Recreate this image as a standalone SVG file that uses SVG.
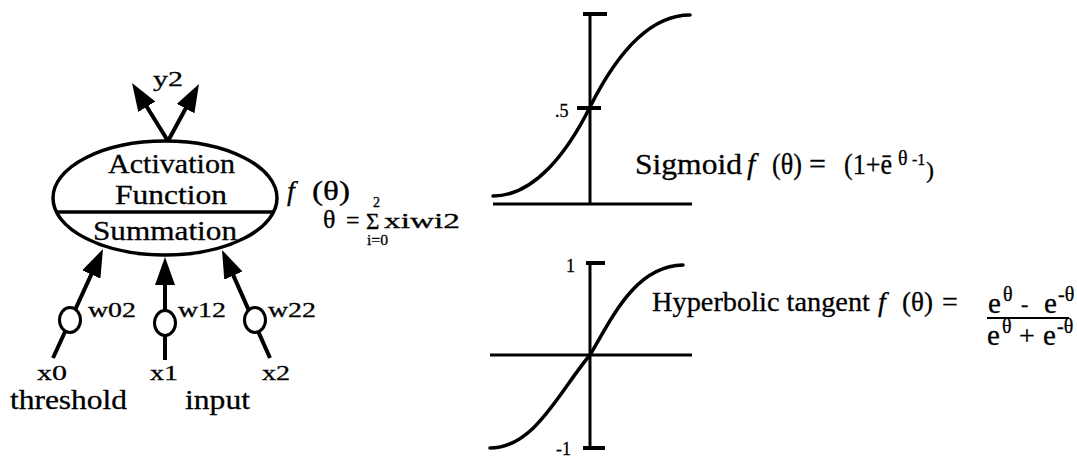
<svg xmlns="http://www.w3.org/2000/svg" width="1077" height="459" viewBox="0 0 1077 459">
<defs>
<style>
.t{font-family:"Liberation Serif","Times New Roman",serif;fill:#000;stroke:#000;stroke-width:0.3}
.i{font-style:italic}
.ax{fill:none;stroke:#000;stroke-width:3}
.tk{fill:none;stroke:#000;stroke-width:4}
.cv{fill:none;stroke:#000;stroke-width:3.5;stroke-linecap:round}
.ln{fill:none;stroke:#000;stroke-width:4;marker-end:url(#ah)}
.nd{fill:#fff;stroke:#000;stroke-width:3.5}
.wc{fill:#fff;stroke:#000;stroke-width:3}
</style>
<marker id="ah" viewBox="0 0 28 20" refX="18" refY="10" markerWidth="28" markerHeight="20" markerUnits="userSpaceOnUse" orient="auto"><path d="M0,0 L28,10 L0,20 z" fill="#000"/></marker>
</defs>
<rect width="1077" height="459" fill="#fff"/>

<g id="connectors">
<line class="ln" x1="168" y1="141" x2="137.3" y2="91.5"/>
<line class="ln" x1="168" y1="141" x2="194.2" y2="92.8"/>
<line class="ln" x1="53" y1="358" x2="98.8" y2="258.1"/>
<line class="ln" x1="165" y1="360" x2="165" y2="267"/>
<line class="ln" x1="270" y1="358" x2="226.1" y2="259.1"/>
</g>

<g id="neuron">
<ellipse class="nd" cx="165" cy="198" rx="112" ry="57"/>
<line x1="56" y1="212" x2="274" y2="212" stroke="#000" stroke-width="3.5"/>
<text class="t" x="108" y="173" font-size="28" textLength="127" lengthAdjust="spacingAndGlyphs">Activation</text>
<text class="t" x="115" y="204" font-size="28" textLength="112" lengthAdjust="spacingAndGlyphs">Function</text>
<text class="t" x="93" y="240" font-size="28" textLength="144" lengthAdjust="spacingAndGlyphs">Summation</text>
</g>

<g id="output-label">
<text class="t" x="153" y="86" font-size="22" textLength="30" lengthAdjust="spacingAndGlyphs">y2</text>
</g>

<g id="weight0">
<ellipse class="wc" cx="70" cy="320" rx="10.5" ry="12.5"/>
<text class="t" x="88" y="317" font-size="21" textLength="48" lengthAdjust="spacingAndGlyphs">w02</text>
</g>
<g id="weight1">
<ellipse class="wc" cx="165" cy="323" rx="10.5" ry="12.5"/>
<text class="t" x="178" y="317" font-size="21" textLength="48" lengthAdjust="spacingAndGlyphs">w12</text>
</g>
<g id="weight2">
<ellipse class="wc" cx="255" cy="320" rx="10.5" ry="12.5"/>
<text class="t" x="268" y="317" font-size="21" textLength="48" lengthAdjust="spacingAndGlyphs">w22</text>
</g>

<g id="input0">
<text class="t" x="37" y="380" font-size="22" textLength="30" lengthAdjust="spacingAndGlyphs">x0</text>
<text class="t" x="10" y="409" font-size="28" textLength="117" lengthAdjust="spacingAndGlyphs">threshold</text>
</g>
<g id="input1">
<text class="t" x="150" y="380" font-size="22" textLength="28" lengthAdjust="spacingAndGlyphs">x1</text>
<text class="t" x="185" y="409" font-size="28" textLength="65" lengthAdjust="spacingAndGlyphs">input</text>
</g>
<g id="input2">
<text class="t" x="262" y="380" font-size="22" textLength="28" lengthAdjust="spacingAndGlyphs">x2</text>
</g>

<g id="activation-label">
<text class="t i" x="287" y="200" font-size="28">f</text>
<text class="t" x="312" y="200" font-size="28" textLength="38" lengthAdjust="spacingAndGlyphs">(θ)</text>
</g>

<g id="sum-formula">
<text class="t" x="323" y="228" font-size="26">θ</text>
<text class="t" x="346" y="228" font-size="24">=</text>
<text class="t" x="366" y="229" font-size="23">Σ</text>
<text class="t" x="373" y="207" font-size="14">2</text>
<text class="t" x="367" y="245" font-size="15" textLength="21" lengthAdjust="spacingAndGlyphs">i=0</text>
<text class="t" x="384" y="228" font-size="22" textLength="76" lengthAdjust="spacingAndGlyphs">xiwi2</text>
</g>

<g id="sigmoid-plot">
<line class="ax" x1="590" y1="13" x2="590" y2="204"/>
<line class="tk" x1="583" y1="14" x2="607" y2="14"/>
<line class="tk" x1="577" y1="108" x2="601" y2="108"/>
<line class="ax" x1="493" y1="204" x2="692" y2="204"/>
<text class="t" x="555" y="117" font-size="18">.5</text>
<path class="cv" d="M493,196 C535,196 568,151 590,107 C612,63 645,15 690,15"/>
<text class="t" x="635" y="174" font-size="30" textLength="107" lengthAdjust="spacingAndGlyphs">Sigmoid</text>
<text class="t i" x="747" y="174" font-size="30">f</text>
<text class="t" x="772" y="174" font-size="30" textLength="30" lengthAdjust="spacingAndGlyphs">(θ)</text>
<text class="t" x="809" y="174" font-size="30">=</text>
<text class="t" x="844" y="174" font-size="30" textLength="48" lengthAdjust="spacingAndGlyphs">(1+ē</text>
<text class="t" x="898" y="165" font-size="20">θ</text>
<text class="t" x="912" y="165" font-size="16">-1</text>
<text class="t" x="926" y="178" font-size="24">)</text>
</g>

<g id="tanh-plot">
<line class="ax" x1="590" y1="263" x2="590" y2="448"/>
<line class="tk" x1="586" y1="263" x2="605" y2="263"/>
<line class="tk" x1="583" y1="448" x2="605" y2="448"/>
<line class="ax" x1="490" y1="355" x2="692" y2="355"/>
<text class="t" x="566" y="272" font-size="18">1</text>
<text class="t" x="556" y="455" font-size="18">-1</text>
<path class="cv" d="M490,448 C535,448 560,390 590,355 C612,318 635,266 683,265"/>
<text class="t" x="652" y="311" font-size="28" textLength="218" lengthAdjust="spacingAndGlyphs">Hyperbolic tangent</text>
<text class="t i" x="878" y="311" font-size="28">f</text>
<text class="t" x="902" y="311" font-size="28" textLength="31" lengthAdjust="spacingAndGlyphs">(θ)</text>
<text class="t" x="942" y="311" font-size="28">=</text>
<text class="t" x="988" y="313" font-size="29">e</text>
<text class="t" x="1003" y="301" font-size="20">θ</text>
<text class="t" x="1021" y="311" font-size="22">-</text>
<text class="t" x="1044" y="313" font-size="29">e</text>
<text class="t" x="1058" y="301" font-size="20">-θ</text>
<line x1="987" y1="318" x2="1069" y2="318" stroke="#000" stroke-width="2"/>
<text class="t" x="987" y="345" font-size="29">e</text>
<text class="t" x="1002" y="333" font-size="20">θ</text>
<text class="t" x="1019" y="345" font-size="28">+</text>
<text class="t" x="1043" y="345" font-size="29">e</text>
<text class="t" x="1057" y="333" font-size="20">-θ</text>
</g>
</svg>
